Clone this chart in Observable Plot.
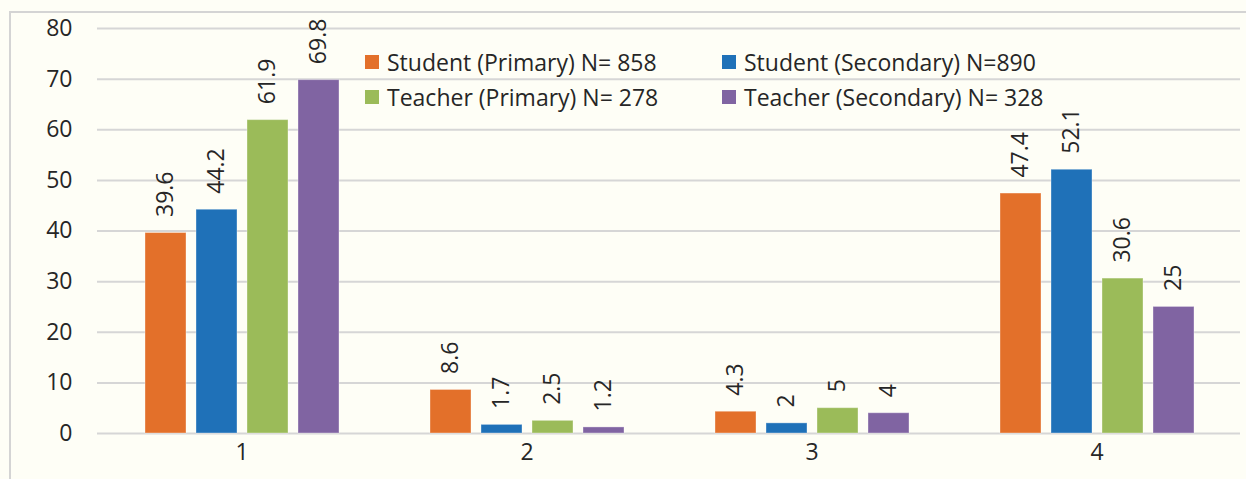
<!DOCTYPE html>
<html>
<head>
<meta charset="utf-8">
<script src="https://cdn.jsdelivr.net/npm/d3@7"></script>
<script src="https://cdn.jsdelivr.net/npm/@observablehq/plot@0.6"></script>
<style>
  html, body { margin: 0; padding: 0; width: 1246px; height: 479px; overflow: hidden; background: #fefef6; }
  #wrap { position: relative; width: 1246px; height: 479px; }
  #frame { position: absolute; left: 9px; top: 11px; width: 1400px; height: 600px; border: 2px solid #d4d4d4; box-sizing: border-box; }
  #grid, #chart { position: absolute; left: 0; top: 0; }
  #legend { position: absolute; left: 365px; top: 44px; display: grid; grid-template-columns: 357px 357px; grid-auto-rows: 35px;
            font-family: "Open Sans", sans-serif; font-size: 23px; color: #262626; }
  #legend .item { display: flex; align-items: center; white-space: nowrap; }
  #legend .sw { width: 14px; height: 14px; margin-right: 8px; flex: none; }
</style>
</head>
<body>
<div id="wrap">
  <div id="frame"></div>
  <div id="grid"></div>
  <div id="chart"></div>
  <div id="legend"></div>
</div>
<script>
const categories = ["1", "2", "3", "4"];
const series = [
  "Student (Primary) N= 858",
  "Student (Secondary) N=890",
  "Teacher (Primary) N= 278",
  "Teacher (Secondary) N= 328"
];
const colors = ["#e3702a", "#1f71b8", "#9bbb59", "#8064a2"];
const studentPrimary = [39.6, 8.6, 4.3, 47.4];
const studentSecondary = [44.2, 1.7, 2, 52.1];
const teacherPrimary = [61.9, 2.5, 5, 30.6];
const teacherSecondary = [69.8, 1.2, 4, 25];
const yTicks = [0, 10, 20, 30, 40, 50, 60, 70, 80];

const seriesValues = [studentPrimary, studentSecondary, teacherPrimary, teacherSecondary];
const data = [];
categories.forEach((c, i) => {
  series.forEach((s, j) => {
    data.push({cat: c, series: s, value: seriesValues[j][i]});
  });
});

const textColor = "#262626";
const common = {
  width: 1246,
  height: 479,
  marginLeft: 97,
  marginRight: 6,
  marginTop: 28,
  marginBottom: 46,
  style: {background: "transparent", fontFamily: "'Open Sans', sans-serif", fontSize: "23px", color: textColor}
};

// Background layer: gridlines and y-axis labels spanning the whole frame
const gridPlot = Plot.plot({
  ...common,
  y: {domain: [0, 80]},
  marks: [
    Plot.ruleY(yTicks, {stroke: "#d6d6d6", strokeWidth: 2}),
    Plot.axisY({ticks: yTicks, tickSize: 0, tickPadding: 25, label: null, fontSize: 23, fill: textColor})
  ]
});
document.getElementById("grid").appendChild(gridPlot);

// Foreground layer: grouped bars and value labels
const chart = Plot.plot({
  ...common,
  fx: {domain: categories, paddingInner: 0.24, paddingOuter: 0.12, label: null, axis: null},
  x: {domain: series, padding: 0.2, axis: null},
  y: {domain: [0, 80], axis: null},
  color: {domain: series, range: colors},
  marks: [
    Plot.axisFx({anchor: "bottom", tickSize: 0, tickPadding: 10, label: null, fontSize: 23, fill: textColor}),
    Plot.barY(data, {fx: "cat", x: "series", y: "value", fill: "series", stroke: "#ffffff", strokeOpacity: 0.35, strokeWidth: 1}),
    Plot.text(data, {fx: "cat", x: "series", y: "value", text: d => String(d.value), rotate: -90, textAnchor: "start", dy: -16, fill: textColor, fontSize: 23})
  ]
});
document.getElementById("chart").appendChild(chart);

const legend = document.getElementById("legend");
series.forEach((s, i) => {
  const item = document.createElement("div");
  item.className = "item";
  const sw = document.createElement("span");
  sw.className = "sw";
  sw.style.background = colors[i];
  const t = document.createElement("span");
  t.textContent = s;
  item.appendChild(sw);
  item.appendChild(t);
  legend.appendChild(item);
});
</script>
</body>
</html>
